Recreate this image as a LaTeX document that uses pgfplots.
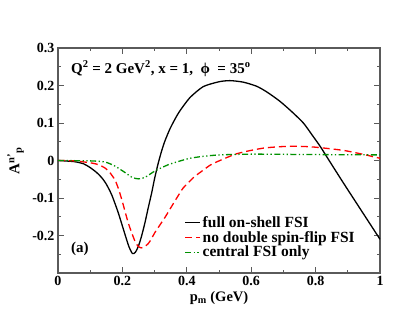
\documentclass[border=0pt]{standalone}
\usepackage{pgfplots}
\pgfplotsset{compat=1.18}
\usepackage{fontspec}
\setmainfont{Liberation Serif}
\definecolor{grgreen}{RGB}{0,145,0}
\definecolor{frame}{RGB}{90,90,90}
\begin{document}
\begin{tikzpicture}
\path[use as bounding box] (-58pt,-49pt) rectangle (359pt,273pt);
\begin{axis}[
  scale only axis,
  width=322pt, height=225pt,
  at={(0pt,0pt)}, anchor=south west,
  xmin=0, xmax=1, ymin=-0.3, ymax=0.3,
  xtick={0,0.2,0.4,0.6,0.8,1},
  xticklabels={0,0.2,0.4,0.6,0.8,1},
  minor xtick={0.1,0.3,0.5,0.7,0.9},
  ytick={-0.2,-0.1,0,0.1,0.2,0.3},
  yticklabels={-0.2,-0.1,0,0.1,0.2,0.3},
  minor ytick={-0.25,-0.15,-0.05,0.05,0.15,0.25},
  tick align=inside,
  major tick length=6pt, minor tick length=3pt,
  every tick/.style={frame, line width=1pt},
  axis line style={frame, line width=1.6pt},
  ticklabel style={font=\fontsize{14}{16}\selectfont\bfseries},
  xlabel={\fontsize{14.5}{16}\selectfont\bfseries p\textsubscript{m} (GeV)},
  xlabel style={at={(axis description cs:0.5,0)}, anchor=north, yshift=-15pt},
  ylabel={\fontsize{15}{16}\selectfont\bfseries A\textsuperscript{n'}\textsubscript{p}},
  ylabel style={at={(axis description cs:-0.095,0.5)}, anchor=south},
  legend style={draw=none, fill=none, at={(axis description cs:0.392,0.262)}, anchor=north west,
    font=\fontsize{15.5}{17}\selectfont\bfseries, row sep=-1.5pt, inner sep=0pt},
  legend cell align=left,
  legend image code/.code={\draw[#1] (0pt,0pt) -- (15pt,0pt);},
  clip=true,
]
\addplot[black, line width=1.3pt, smooth, tension=0.4] coordinates {
(0,0) (0.05,-0.003) (0.08,-0.009) (0.1,-0.019) (0.12,-0.032) (0.136,-0.046) (0.15,-0.063)
(0.167,-0.092) (0.187,-0.139) (0.208,-0.197) (0.22,-0.229) (0.231,-0.248) (0.24,-0.245)
(0.25,-0.228) (0.26,-0.2) (0.27,-0.166) (0.28,-0.127) (0.291,-0.086) (0.3,-0.048)
(0.311,-0.008) (0.322,0.026) (0.332,0.052) (0.348,0.085) (0.365,0.113) (0.379,0.133) (0.41,0.168) (0.451,0.197)
(0.5,0.21) (0.534,0.213) (0.575,0.209) (0.617,0.198) (0.65,0.182) (0.689,0.158)
(0.725,0.131) (0.762,0.1) (0.79,0.067) (0.814,0.038) (0.842,0) (0.876,-0.046)
(0.9,-0.078) (0.95,-0.144) (1,-0.21)};
\addlegendentry{full on-shell FSI}
\addplot[red, line width=1.3pt, dash pattern=on 7pt off 4pt, smooth, tension=0.4] coordinates {
(0,0) (0.05,-0.001) (0.1,-0.006) (0.125,-0.011) (0.146,-0.02) (0.16,-0.031) (0.177,-0.052)
(0.188,-0.076) (0.198,-0.104) (0.208,-0.135) (0.218,-0.166) (0.229,-0.193) (0.239,-0.215)
(0.248,-0.228) (0.258,-0.233) (0.268,-0.23) (0.28,-0.222) (0.29,-0.209) (0.301,-0.192)
(0.332,-0.152) (0.363,-0.108) (0.379,-0.086) (0.389,-0.073) (0.42,-0.046) (0.441,-0.032)
(0.46,-0.02) (0.482,-0.008) (0.555,0.018) (0.638,0.033) (0.72,0.038) (0.793,0.036)
(0.886,0.027) (0.95,0.016) (0.984,0.009) (1,0.006)};
\addlegendentry{no double spin-flip FSI}
\addplot[grgreen, line width=1.3pt, dash pattern=on 6pt off 2.5pt on 1.3pt off 2.5pt on 1.3pt off 2.5pt, smooth, tension=0.4] coordinates {
(0,0) (0.1,-0.001) (0.146,-0.004) (0.177,-0.015) (0.208,-0.032) (0.23,-0.045) (0.25,-0.049)
(0.27,-0.045) (0.301,-0.028) (0.343,-0.011) (0.384,0) (0.41,0.006) (0.45,0.011)
(0.503,0.015) (0.607,0.017) (0.762,0.016) (0.969,0.015) (1,0.015)};
\addlegendentry{central FSI only}
\node[anchor=west, font=\fontsize{15}{16}\selectfont\bfseries] at (axis cs:0.03,0.245)
  {Q\textsuperscript{2} = 2 GeV\textsuperscript{2}, x = 1,\ \ ϕ\ \ = 35\textsuperscript{o}};
\node[font=\fontsize{15}{16}\selectfont\bfseries] at (axis cs:0.068,-0.236) {(a)};
\end{axis}
\end{tikzpicture}
\end{document}
